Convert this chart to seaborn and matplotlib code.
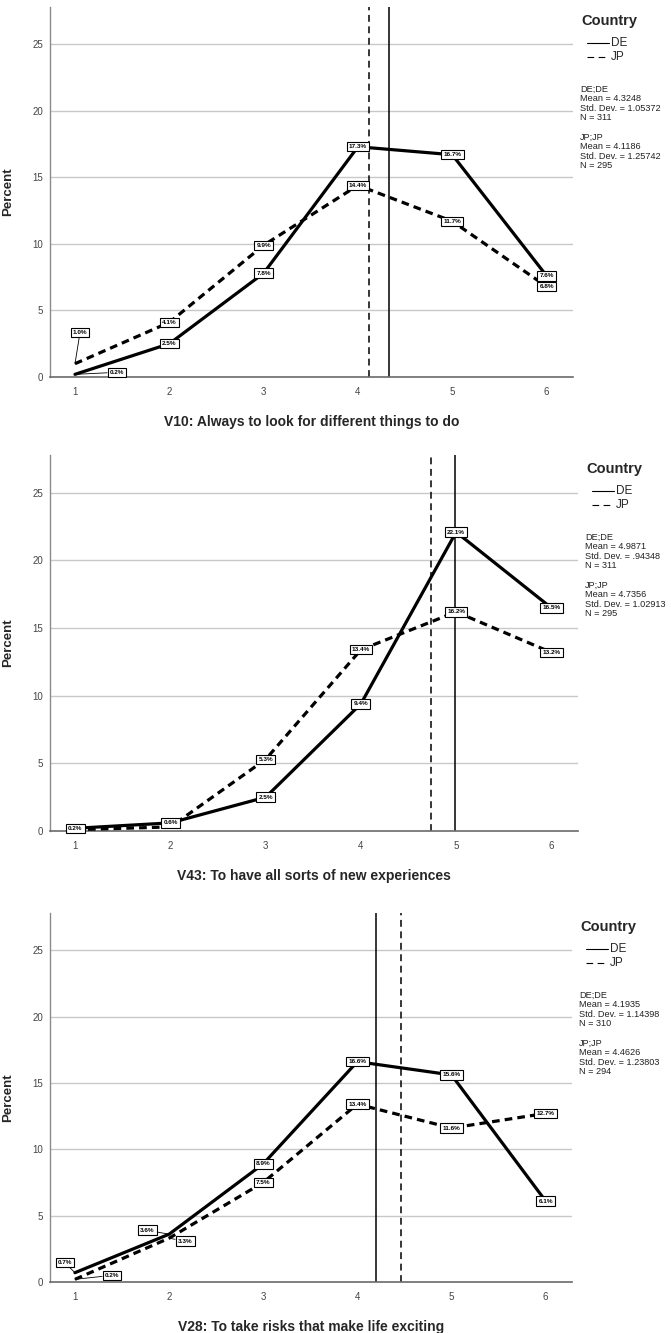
import numpy as np
import pandas as pd
import matplotlib
matplotlib.use("Agg")
import matplotlib.pyplot as plt
from matplotlib.lines import Line2D
import seaborn as sns

# ---------------- data ----------------
categories = [1, 2, 3, 4, 5, 6]
countries = ["DE", "JP"]

v10_de = [0.2, 2.5, 7.8, 17.3, 16.7, 7.6]
v10_jp = [1.0, 4.1, 9.9, 14.4, 11.7, 6.8]
v43_de = [0.2, 0.6, 2.5, 9.4, 22.1, 16.5]
v43_jp = [0.1, 0.3, 5.3, 13.4, 16.2, 13.2]
v28_de = [0.7, 3.6, 8.9, 16.6, 15.6, 6.1]
v28_jp = [0.2, 3.3, 7.5, 13.4, 11.6, 12.7]

xlabels = [
    "V10: Always to look for different things to do",
    "V43: To have all sorts of new experiences",
    "V28: To take risks that make life exciting",
]
means_de = [4.3248, 4.9871, 4.1935]
means_jp = [4.1186, 4.7356, 4.4626]
sd_de = ["1.05372", ".94348", "1.14398"]
sd_jp = ["1.25742", "1.02913", "1.23803"]
n_de = [311, 311, 310]
n_jp = [295, 295, 294]
yticks = [0, 5, 10, 15, 20, 25]

series = [(v10_de, v10_jp), (v43_de, v43_jp), (v28_de, v28_jp)]

# ---------------- style ----------------
sns.set_style("white")
plt.rcParams["font.family"] = ["Liberation Sans", "DejaVu Sans"]

W, H = 671, 1333
fig = plt.figure(figsize=(W / 100, H / 100), dpi=100)

# axes rects in pixels: left, right, top, bottom
rects = [(50, 573, 7, 377), (50, 578, 455, 831), (50, 572, 913, 1282)]

# label offsets in pixels (dx, dy up) for labels moved off their point
label_offsets = {
    (0, "JP", 0): (5, 31),
    (0, "DE", 0): (42, 2),
    (2, "DE", 0): (-10, 10),
    (2, "JP", 0): (37, 4),
    (2, "DE", 1): (-22, 4),
    (2, "JP", 1): (16, -3),
}
hidden_labels = {(1, "JP", 0), (1, "JP", 1)}

for p, (l, r, t, b) in enumerate(rects):
    ax = fig.add_axes([l / W, 1 - b / H, (r - l) / W, (b - t) / H])
    de, jp = series[p]
    df = pd.DataFrame({
        "Value": categories * 2,
        "Percent": de + jp,
        "Country": ["DE"] * len(de) + ["JP"] * len(jp),
    })
    sns.lineplot(data=df, x="Value", y="Percent", style="Country",
                 dashes={"DE": "", "JP": (2.4, 1.6)}, color="black",
                 lw=2.3, legend=False, ax=ax, zorder=3)

    ax.axvline(means_de[p], color="black", lw=1.1, zorder=2)
    ax.axvline(means_jp[p], color="black", lw=1.1, ls=(0, (4.5, 3.0)), zorder=2)

    ax.set_xlim(0.735, 6.28)
    ax.set_ylim(0, 27.8)
    ax.set_xticks(categories)
    ax.set_yticks(yticks)
    for yv in yticks[1:]:
        ax.axhline(yv, color="#c8c8c8", lw=1.0, zorder=0)

    for s in ["top", "right"]:
        ax.spines[s].set_visible(False)
    ax.spines["left"].set_color("#8a8a8a")
    ax.spines["left"].set_linewidth(1.0)
    ax.spines["bottom"].set_color("#6a6a6a")
    ax.spines["bottom"].set_linewidth(1.2)
    ax.tick_params(axis="y", length=0, labelsize=7, labelcolor="#444444", pad=5)
    ax.tick_params(axis="x", direction="inout", length=4, width=0.8,
                   color="#8a8a8a", labelsize=7, labelcolor="#444444", pad=5)

    ax.set_ylabel("Percent", fontsize=9.5, fontweight="bold")
    ax.set_xlabel(xlabels[p], fontsize=10, fontweight="bold")
    aw, ah = r - l, b - t
    ax.yaxis.set_label_coords(-36 / aw, 0.5)
    ax.xaxis.set_label_coords(0.5, -38 / ah)

    # data labels
    for cname, vals in zip(countries, (de, jp)):
        for i, (xv, yv) in enumerate(zip(categories, vals)):
            key = (p, cname, i)
            if key in hidden_labels:
                continue
            dx, dy = label_offsets.get(key, (0, 0))
            arrow = None
            if abs(dx) + abs(dy) > 5:
                arrow = dict(arrowstyle="-", color="black", lw=0.6,
                             shrinkA=0, shrinkB=0)
            ax.annotate(f"{yv:.1f}%", xy=(xv, yv), xytext=(dx, dy),
                        textcoords="offset pixels", ha="center", va="center",
                        fontsize=4.6, fontweight="bold", color="black",
                        bbox=dict(boxstyle="square,pad=0.35", fc="white",
                                  ec="black", lw=0.8),
                        arrowprops=arrow, zorder=5)

    # legend / statistics block
    ax.annotate("Country", xy=(1, 1), xycoords="axes fraction",
                xytext=(8, -14), textcoords="offset pixels",
                ha="left", va="center", fontsize=10.5, fontweight="bold",
                annotation_clip=False)
    x0 = r + 14
    x1 = r + 36
    for k, (lab, yoff) in enumerate([("DE", 36), ("JP", 50)]):
        yy = 1 - (t + yoff) / H
        ls = "-" if lab == "DE" else (0, (6, 4))
        fig.add_artist(Line2D([x0 / W, x1 / W], [yy, yy], color="black",
                              lw=0.8, ls=ls))
        fig.text((x1 + 2) / W, yy, lab, ha="left", va="center", fontsize=8.5)

    stats_de = f"DE;DE\nMean = {means_de[p]:.4f}\nStd. Dev. = {sd_de[p]}\nN = {n_de[p]}"
    stats_jp = f"JP;JP\nMean = {means_jp[p]:.4f}\nStd. Dev. = {sd_jp[p]}\nN = {n_jp[p]}"
    for txt, yoff in [(stats_de, 78), (stats_jp, 126)]:
        fig.text((r + 7) / W, 1 - (t + yoff) / H, txt, ha="left", va="top",
                 fontsize=6.6, linespacing=1.05, color="#222222")

fig.savefig("out.png", dpi=100)
